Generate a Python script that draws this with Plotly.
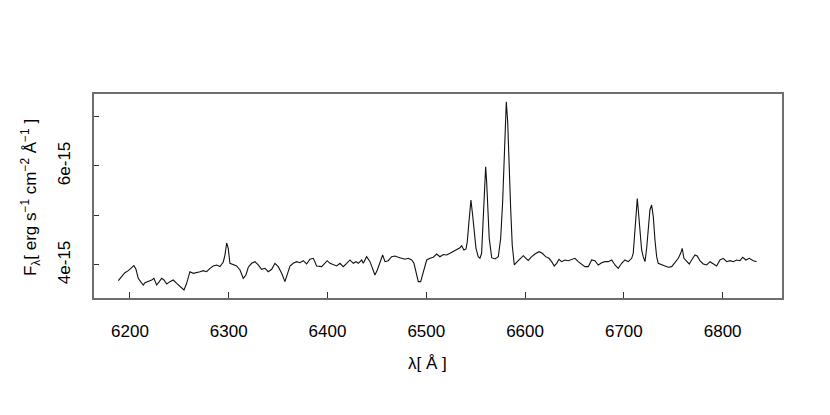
import numpy as np
import plotly.graph_objects as go

# Wavelength (Angstrom) and flux (units of 1e-15 erg s^-1 cm^-2 A^-1)
wavelength = [
    6188.2, 6191.6, 6194.9, 6198.3, 6200.7, 6204.0, 6206.1, 6208.4, 6210.8, 6213.5,
    6215.2, 6218.5, 6222.0, 6224.3, 6227.0, 6229.7, 6232.1, 6234.4, 6237.2, 6240.5,
    6243.8, 6247.3, 6250.6, 6254.7, 6257.4, 6260.7, 6264.1, 6267.5, 6270.9, 6274.2,
    6277.6, 6281.0, 6284.3, 6287.8, 6291.1, 6294.5, 6296.2, 6297.9, 6299.5, 6301.2,
    6304.6, 6308.0, 6311.4, 6314.7, 6317.4, 6319.8, 6323.2, 6326.5, 6329.9, 6333.3,
    6336.7, 6340.0, 6343.5, 6346.8, 6350.1, 6353.6, 6356.9, 6358.6, 6362.0, 6365.3,
    6368.8, 6372.1, 6375.4, 6378.9, 6382.2, 6385.6, 6389.0, 6394.1, 6397.4, 6399.7,
    6402.5, 6405.8, 6409.3, 6412.6, 6415.9, 6419.4, 6422.7, 6426.1, 6428.8, 6431.1,
    6434.6, 6436.2, 6439.6, 6443.0, 6445.7, 6448.0, 6450.4, 6453.1, 6455.8, 6458.2,
    6461.5, 6464.9, 6468.3, 6471.6, 6475.1, 6478.4, 6481.7, 6485.2, 6487.5, 6489.5,
    6491.9, 6494.3, 6496.9, 6500.4, 6503.7, 6507.0, 6510.5, 6513.8, 6517.2, 6520.6,
    6524.0, 6527.3, 6530.7, 6534.1, 6535.8, 6538.1, 6540.2, 6541.5, 6543.2, 6545.2,
    6546.9, 6548.3, 6550.3, 6552.6, 6554.3, 6556.0, 6557.7, 6559.1, 6560.1, 6561.1,
    6562.1, 6563.7, 6566.2, 6569.5, 6572.9, 6575.3, 6577.3, 6578.9, 6580.3, 6581.0,
    6582.4, 6583.7, 6585.4, 6587.0, 6589.1, 6592.1, 6595.5, 6598.2, 6600.9, 6603.2,
    6606.7, 6610.0, 6614.1, 6617.4, 6620.8, 6624.2, 6626.9, 6629.5, 6632.0, 6634.3,
    6637.0, 6640.4, 6643.7, 6647.2, 6650.5, 6653.8, 6657.3, 6660.6, 6664.0, 6667.4,
    6670.7, 6674.1, 6677.5, 6680.9, 6684.2, 6687.7, 6691.0, 6694.3, 6697.8, 6701.1,
    6704.5, 6707.9, 6709.5, 6711.2, 6712.6, 6713.6, 6714.6, 6715.6, 6718.0, 6719.6,
    6721.4, 6723.1, 6724.7, 6726.4, 6728.1, 6729.8, 6731.5, 6733.2, 6734.8, 6738.3,
    6741.6, 6745.0, 6748.4, 6751.7, 6755.1, 6757.5, 6759.1, 6760.8, 6763.6, 6766.2,
    6768.6, 6772.0, 6774.3, 6777.0, 6780.4, 6783.8, 6787.2, 6790.5, 6793.9, 6797.3,
    6800.6, 6804.1, 6807.4, 6810.8, 6814.2, 6817.5, 6820.3, 6823.6, 6827.0, 6831.0,
    6834.4,
]
flux_1e15 = [
    3.683, 3.764, 3.844, 3.885, 3.933, 3.986, 3.913, 3.731, 3.663, 3.596,
    3.642, 3.663, 3.697, 3.731, 3.596, 3.663, 3.731, 3.697, 3.616, 3.663,
    3.697, 3.630, 3.576, 3.495, 3.630, 3.865, 3.832, 3.844, 3.865, 3.885,
    3.865, 3.933, 3.980, 4.000, 3.970, 4.061, 4.202, 4.444, 4.337, 4.034,
    4.000, 3.980, 3.899, 3.731, 3.798, 3.954, 4.034, 4.067, 4.000, 3.913,
    3.933, 3.865, 3.913, 4.034, 3.966, 3.832, 3.663, 3.764, 3.980, 4.034,
    4.067, 4.046, 4.087, 4.020, 4.115, 4.135, 3.980, 3.966, 4.034, 4.087,
    4.034, 4.000, 3.980, 4.034, 3.966, 4.034, 4.101, 4.034, 4.067, 4.034,
    4.101, 4.034, 4.168, 4.067, 3.933, 3.798, 3.899, 4.067, 4.202, 4.067,
    4.087, 4.168, 4.182, 4.156, 4.135, 4.115, 4.135, 4.101, 4.034, 3.832,
    3.663, 3.663, 3.832, 4.101, 4.135, 4.156, 4.222, 4.166, 4.212, 4.202,
    4.236, 4.269, 4.303, 4.349, 4.390, 4.303, 4.323, 4.471, 4.875, 5.313,
    5.010, 4.673, 4.337, 4.168, 4.135, 4.236, 4.875, 5.549, 5.986, 5.683,
    5.212, 4.539, 4.147, 4.121, 4.168, 4.539, 5.279, 6.222, 6.963, 7.299,
    6.895, 5.953, 5.145, 4.404, 4.000, 4.067, 4.135, 4.188, 4.135, 4.091,
    4.168, 4.222, 4.269, 4.236, 4.168, 4.135, 4.067, 3.980, 4.034, 4.115,
    4.067, 4.101, 4.087, 4.115, 4.135, 4.067, 4.020, 3.966, 3.966, 4.101,
    4.087, 4.000, 4.046, 4.067, 4.067, 4.101, 4.000, 3.933, 4.034, 4.101,
    4.067, 4.135, 4.236, 4.774, 5.178, 5.343, 5.111, 4.842, 4.303, 4.168,
    4.067, 4.337, 4.707, 5.111, 5.212, 4.976, 4.505, 4.168, 4.034, 4.000,
    3.980, 3.954, 3.966, 4.046, 4.135, 4.236, 4.337, 4.135, 4.067, 4.020,
    4.101, 4.202, 4.182, 4.087, 4.020, 4.000, 4.067, 4.020, 3.980, 4.101,
    4.135, 4.067, 4.087, 4.067, 4.101, 4.087, 4.156, 4.101, 4.135, 4.087,
    4.067,
]

x_ticks = [6200, 6300, 6400, 6500, 6600, 6700, 6800]
y_ticks = [4e-15, 5e-15, 6e-15, 7e-15]
y_tick_text = ["4e-15", "", "6e-15", ""]

flux = np.array(flux_1e15) * 1e-15

fig = go.Figure()
fig.add_trace(go.Scatter(
    x=wavelength, y=flux, mode="lines",
    line=dict(color="#111111", width=1.1),
    hoverinfo="skip", showlegend=False,
))

font_main = "Liberation Sans, Arial, Helvetica, sans-serif"

# page body has an 8px default margin, so the figure is slightly smaller
fig.update_layout(
    width=822, height=407,
    margin=dict(l=86, r=48, t=86, b=117),
    paper_bgcolor="white", plot_bgcolor="white",
    font=dict(family=font_main, size=17, color="black"),
    xaxis=dict(
        range=[6163.6, 6860.1],
        tickvals=x_ticks, ticktext=[str(v) for v in x_ticks],
        ticks="inside", ticklen=6, tickwidth=1, tickcolor="#333333",
        showline=True, linecolor="#6e6e6e", linewidth=1.6, mirror=True,
        showgrid=False, zeroline=False,
        ticklabelstandoff=17,
        tickfont=dict(size=17),
    ),
    yaxis=dict(
        range=[3.333e-15, 7.454e-15],
        tickvals=y_ticks, ticktext=y_tick_text,
        ticks="inside", ticklen=5, tickwidth=1, tickcolor="#333333",
        showline=True, linecolor="#6e6e6e", linewidth=1.6, mirror=True,
        showgrid=False, zeroline=False,
        tickangle=-90,
        ticklabelstandoff=15,
        tickfont=dict(size=17),
    ),
    annotations=[
        dict(
            text="λ[ Å ]", xref="paper", yref="paper",
            x=0.485, y=-0.319, xanchor="center", yanchor="middle",
            showarrow=False, font=dict(size=17),
        ),
        dict(
            text="F<sub>λ</sub>[ erg s<sup>−1</sup> cm<sup>−2</sup> Å<sup>−1</sup> ]",
            xref="paper", yref="paper",
            x=-0.093, y=0.49, xanchor="center", yanchor="middle",
            textangle=-90, showarrow=False, font=dict(size=17),
        ),
    ],
)

fig.write_html("out.html")
